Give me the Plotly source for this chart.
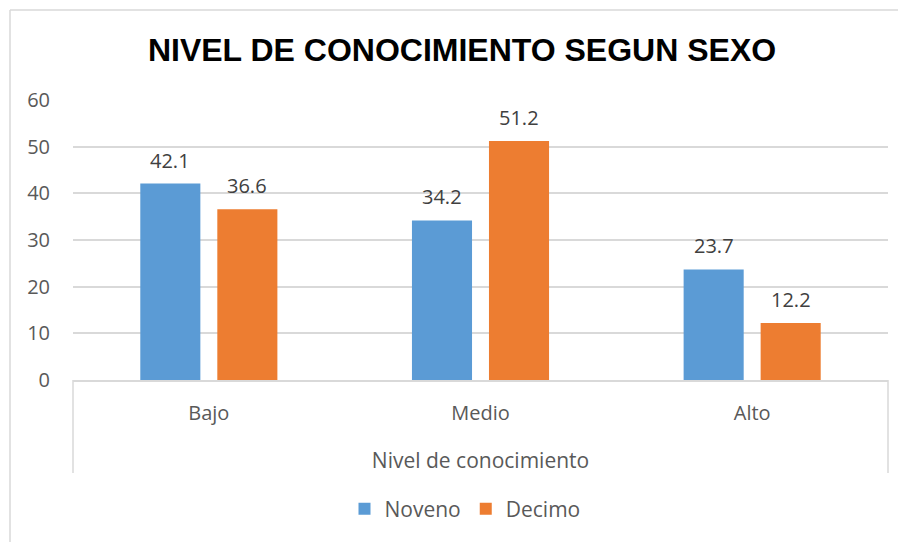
import plotly.graph_objects as go

# ── Data ──────────────────────────────────────────────────────────────────────
categories = ["Bajo", "Medio", "Alto"]
noveno = [42.1, 34.2, 23.7]
decimo = [36.6, 51.2, 12.2]
y_ticks = [0, 10, 20, 30, 40, 50, 60]

BLUE = "#5B9BD5"
ORANGE = "#ED7D31"
GRID = "#D9D9D9"
TEXT = "#595959"
FONT = "Open Sans"

# page body adds an 8px margin, so work in figure coords = screen - 8
OFF = 8
W, H = 906, 542
L, R, T, B = 73 - OFF, 888 - OFF, 100 - OFF, 380 - OFF

BARGAP = 0.433
GROUPGAP = 0.22
# half of one bar slot in px -> horizontal shift of the data labels
SLOT_HALF = (R - L) / len(categories) * (1 - BARGAP) / 4


def px_x(p):
    return (p - OFF - L) / (R - L)


def px_y(p):
    return (B - (p - OFF)) / (B - T)


fig = go.Figure()
annotations = []
series = [("Noveno", noveno, BLUE, -1), ("Decimo", decimo, ORANGE, 1)]
for name, vals, color, side in series:
    fig.add_trace(go.Bar(
        name=name,
        x=categories,
        y=vals,
        marker=dict(color=color, line=dict(width=0)),
    ))
    # data labels, lifted a bit off the bar top like Excel
    for cat, v in zip(categories, vals):
        annotations.append(dict(
            x=cat, y=v, xref="x", yref="y",
            text=f"{v:.1f}", showarrow=False,
            xanchor="center", yanchor="bottom",
            xshift=side * SLOT_HALF, yshift=8,
            font=dict(family=FONT, size=20, color="#404040"),
        ))

line_style = dict(color=GRID, width=1.5)
shapes = [
    # outer chart border (left + top)
    dict(type="line", xref="paper", yref="paper", x0=px_x(10), x1=px_x(10),
         y0=px_y(10), y1=px_y(560), line=line_style),
    dict(type="line", xref="paper", yref="paper", x0=px_x(10), x1=px_x(920),
         y0=px_y(10), y1=px_y(10), line=line_style),
    # multi-level category box sides
    dict(type="line", xref="paper", yref="paper", x0=0, x1=0,
         y0=0, y1=px_y(473), line=line_style),
    dict(type="line", xref="paper", yref="paper", x0=1, x1=1,
         y0=0, y1=px_y(473), line=line_style),
]

fig.update_layout(
    width=W, height=H,
    barmode="group",
    bargap=BARGAP,
    bargroupgap=GROUPGAP,
    title=dict(
        text="<b>NIVEL DE CONOCIMIENTO SEGUN SEXO</b>",
        font=dict(family="Liberation Sans", size=32, color="#000000"),
        xref="container", x=(462 - OFF) / W, xanchor="center",
        yref="container", y=1 - (50 - OFF) / H, yanchor="middle",
    ),
    xaxis=dict(
        showline=True, linecolor=GRID, linewidth=1.5,
        showgrid=False, ticks="",
        ticklabelstandoff=14,
        tickfont=dict(family=FONT, size=20, color=TEXT),
        title=dict(text="Nivel de conocimiento",
                   font=dict(family=FONT, size=21, color=TEXT),
                   standoff=29),
    ),
    yaxis=dict(
        range=[0, 60], tickvals=y_ticks,
        showgrid=True, gridcolor=GRID, gridwidth=1.5,
        zeroline=False, showline=False, ticks="",
        ticklabelstandoff=22,
        tickfont=dict(family=FONT, size=20, color=TEXT),
    ),
    legend=dict(
        orientation="h",
        x=px_x(465), xanchor="center",
        y=px_y(509), yanchor="middle",
        font=dict(family=FONT, size=21, color=TEXT),
        itemwidth=30,
        traceorder="normal",
    ),
    annotations=annotations,
    shapes=shapes,
    paper_bgcolor="white",
    plot_bgcolor="white",
    margin=dict(l=L, r=W - R, t=T, b=H - B, autoexpand=False),
)

fig.write_html("out.html")
